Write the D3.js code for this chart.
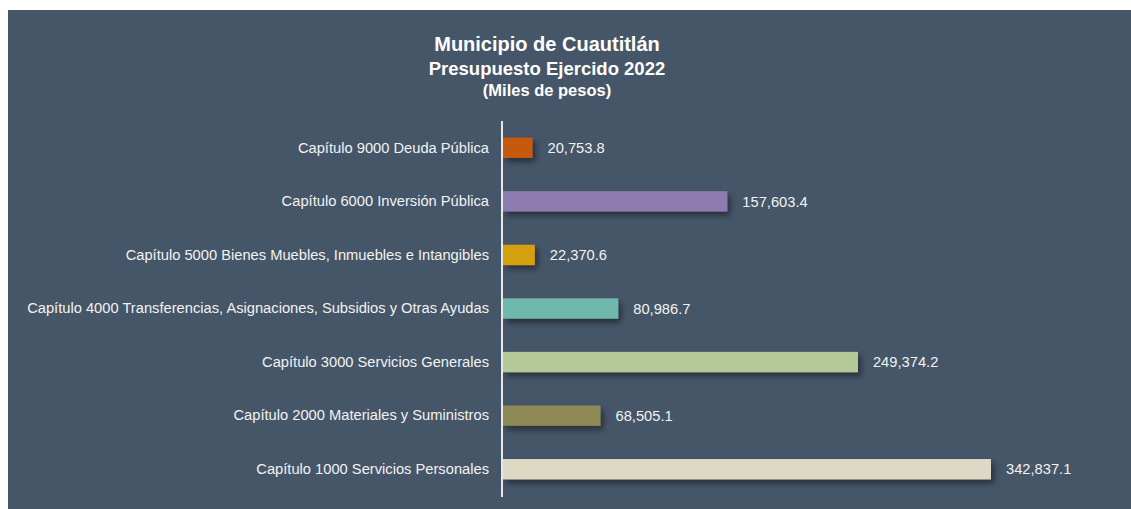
<!DOCTYPE html>
<html>
<head>
<meta charset="utf-8">
<script src="https://cdn.jsdelivr.net/npm/d3@7"></script>
<style>
  html, body { margin: 0; padding: 0; background: #ffffff; }
  svg { display: block; }
</style>
</head>
<body>
<div id="chart"></div>
<script>
"use strict";
let width = 1131;
let height = 509;

// data, top to bottom as drawn
let categories = [
  "Capítulo 9000 Deuda Pública",
  "Capítulo 6000 Inversión Pública",
  "Capítulo 5000 Bienes Muebles, Inmuebles e Intangibles",
  "Capítulo 4000 Transferencias, Asignaciones, Subsidios y Otras Ayudas",
  "Capítulo 3000 Servicios Generales",
  "Capítulo 2000 Materiales y Suministros",
  "Capítulo 1000 Servicios Personales"
];
let values = [20753.8, 157603.4, 22370.6, 80986.7, 249374.2, 68505.1, 342837.1];
let barColors = ["#c55a11", "#8e7cb0", "#d4a00a", "#6fb8ac", "#b5ca98", "#8f8957", "#ddd9c4"];
let titleLines = ["Municipio de Cuautitlán", "Presupuesto Ejercido 2022", "(Miles de pesos)"];

let svg = d3.select("#chart")
  .append("svg")
  .attr("width", width)
  .attr("height", height);

// drop shadow for the bars
let defs = svg.append("defs");
let shadow = defs.append("filter")
  .attr("id", "barShadow")
  .attr("x", "-20%").attr("y", "-50%")
  .attr("width", "150%").attr("height", "250%");
shadow.append("feDropShadow")
  .attr("dx", 3)
  .attr("dy", 4)
  .attr("stdDeviation", 3)
  .attr("flood-color", "#000000")
  .attr("flood-opacity", 0.45);

// panel background
svg.append("rect")
  .attr("x", 8)
  .attr("y", 10)
  .attr("width", width - 8)
  .attr("height", height - 10)
  .attr("fill", "#465669");

let xScale = d3.scaleLinear()
  .domain([0, d3.max(values)])
  .range([503, 991]);

let yScale = d3.scaleBand()
  .domain(categories)
  .range([121, 496])
  .paddingInner(0.62)
  .paddingOuter(0.31);

// bars
svg.selectAll(".bar")
  .data(values)
  .enter()
  .append("rect")
  .attr("class", "bar")
  .attr("x", xScale(0))
  .attr("y", function(d, i) { return yScale(categories[i]); })
  .attr("width", function(d) { return xScale(d) - xScale(0); })
  .attr("height", yScale.bandwidth())
  .attr("fill", function(d, i) { return barColors[i]; })
  .attr("filter", "url(#barShadow)");

// value labels
svg.selectAll(".valueLabel")
  .data(values)
  .enter()
  .append("text")
  .attr("class", "valueLabel")
  .attr("x", function(d) { return xScale(d) + 15; })
  .attr("y", function(d, i) { return yScale(categories[i]) + yScale.bandwidth() / 2; })
  .attr("dy", "0.35em")
  .style("font-family", "Arial, 'Liberation Sans', sans-serif")
  .style("font-size", "14.7px")
  .attr("fill", "#f2f2f2")
  .text(function(d) { return d3.format(",.1f")(d); });

// category axis
let yAxis = d3.axisLeft(yScale).tickSize(0).tickPadding(13);
let axisG = svg.append("g")
  .attr("class", "axis")
  .attr("transform", "translate(502,0)")
  .call(yAxis);
axisG.select(".domain").remove();
axisG.selectAll("text")
  .style("font-family", "Arial, 'Liberation Sans', sans-serif")
  .style("font-size", "14.7px")
  .attr("fill", "#f2f2f2");

svg.append("line")
  .attr("x1", 502).attr("x2", 502)
  .attr("y1", 121).attr("y2", 497)
  .attr("stroke", "#e8e8e8")
  .attr("stroke-width", 2);

// title
let titleSizes = [20, 18.5, 16.5];
let titleY = [51, 75, 96];
svg.selectAll(".title")
  .data(titleLines)
  .enter()
  .append("text")
  .attr("class", "title")
  .attr("x", 547)
  .attr("y", function(d, i) { return titleY[i]; })
  .attr("text-anchor", "middle")
  .style("font-family", "Arial, 'Liberation Sans', sans-serif")
  .style("font-weight", "bold")
  .style("font-size", function(d, i) { return titleSizes[i] + "px"; })
  .attr("fill", "#ffffff")
  .text(function(d) { return d; });
</script>
</body>
</html>
